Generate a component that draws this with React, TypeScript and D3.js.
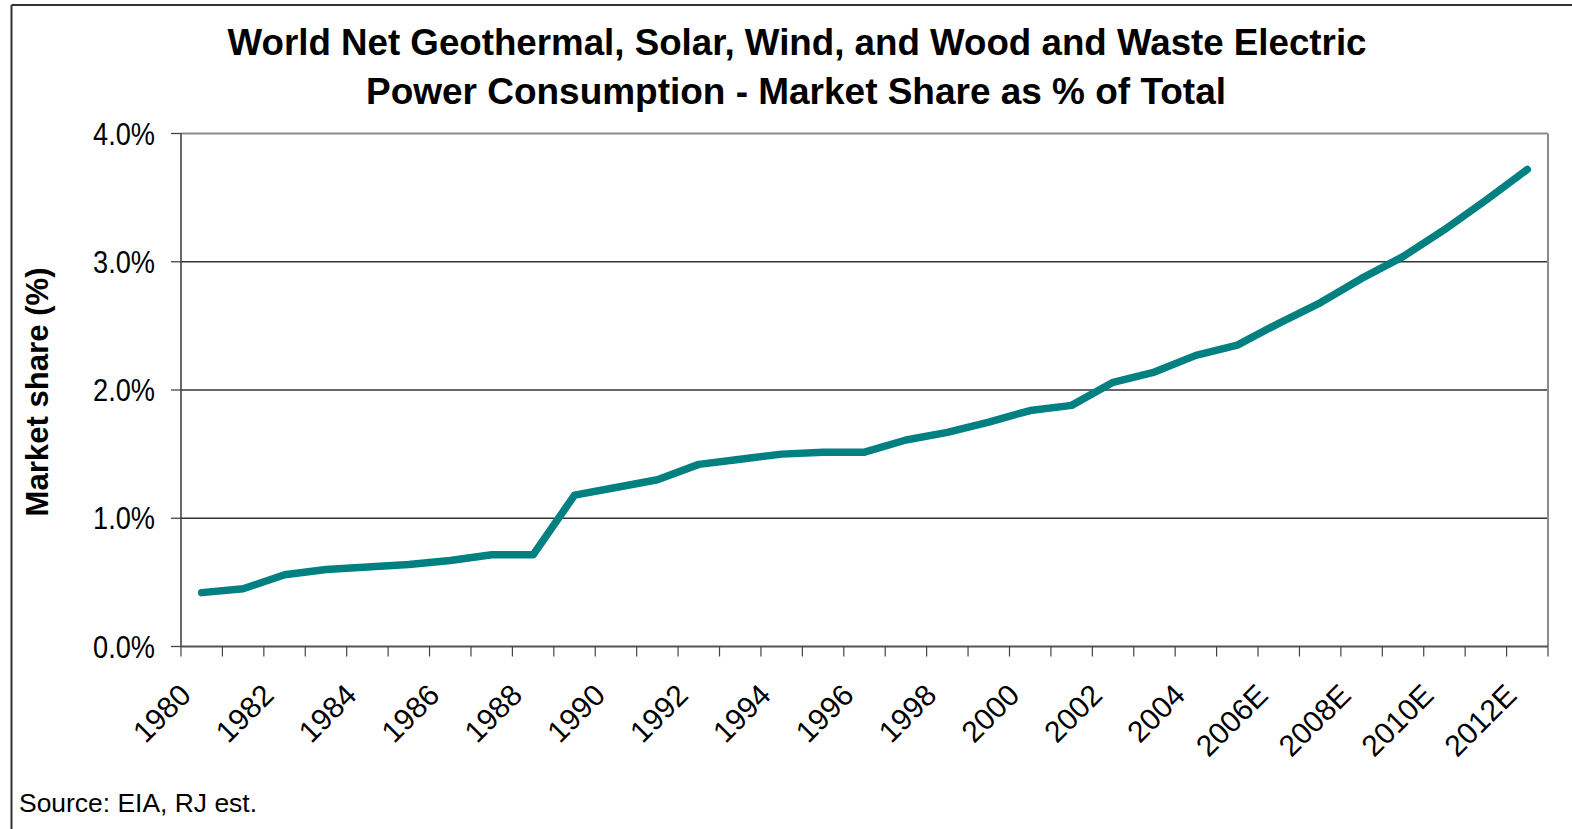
import React from "react";
import * as d3 from "d3";

const categories: string[] = [
  "1980", "1981", "1982", "1983", "1984", "1985", "1986", "1987", "1988", "1989",
  "1990", "1991", "1992", "1993", "1994", "1995", "1996", "1997", "1998", "1999",
  "2000", "2001", "2002", "2003", "2004", "2005", "2006E", "2007E", "2008E", "2009E",
  "2010E", "2011E", "2012E",
];
const marketShare: number[] = [
  0.42, 0.45, 0.56, 0.6, 0.62, 0.64, 0.67, 0.715, 0.715, 1.18,
  1.24, 1.3, 1.42, 1.46, 1.5, 1.515, 1.515, 1.61, 1.67, 1.75,
  1.84, 1.88, 2.06, 2.14, 2.27, 2.35, 2.52, 2.68, 2.87, 3.04,
  3.25, 3.48, 3.72,
];
const yTicks: number[] = [0, 1, 2, 3, 4];
const titleLines: string[] = [
  "World Net Geothermal, Solar, Wind, and Wood and Waste Electric",
  "Power Consumption - Market Share as % of Total",
];
const yAxisTitle = "Market share (%)";
const sourceNote = "Source: EIA, RJ est.";

const W = 1572;
const H = 829;
const plot = { left: 181, right: 1548, top: 133.5, bottom: 646.5 };
const FONT = "'Liberation Sans', Arial, Helvetica, sans-serif";

export default function App() {
  const x = d3.scaleBand<string>().domain(categories).range([plot.left, plot.right]).padding(0);
  const y = d3.scaleLinear().domain([0, 4]).range([plot.bottom, plot.top]);
  const line = d3
    .line<number>()
    .x((_, i) => (x(categories[i]) as number) + x.bandwidth() / 2)
    .y((d) => y(d));
  const fmt = d3.format(".1f");
  const boundaries = categories.map((c) => x(c) as number).concat([plot.right]);

  return (
    <svg
      width={W}
      height={H}
      style={{ position: "absolute", left: 0, top: 0, background: "#fff" }}
      fontFamily={FONT}
    >
      <rect x={0} y={0} width={W} height={H} fill="#fff" />
      {/* outer frame fragments */}
      <line x1={11.5} y1={5} x2={W} y2={5} stroke="#333" strokeWidth={2} />
      <line x1={11.5} y1={5} x2={11.5} y2={H} stroke="#333" strokeWidth={2} />

      {/* title */}
      <text x={797} y={55} textAnchor="middle" fontSize={36} fontWeight="bold" fill="#000"
        textLength={1139} lengthAdjust="spacingAndGlyphs">{titleLines[0]}</text>
      <text x={796} y={104} textAnchor="middle" fontSize={36} fontWeight="bold" fill="#000"
        textLength={860} lengthAdjust="spacingAndGlyphs">{titleLines[1]}</text>

      {/* gridlines */}
      {yTicks.filter((t) => t > 0 && t < 4).map((t) => (
        <line key={t} x1={plot.left} x2={plot.right} y1={y(t)} y2={y(t)} stroke="#333" strokeWidth={1.3} />
      ))}
      {/* plot frame top/right */}
      <line x1={plot.left} x2={plot.right} y1={plot.top} y2={plot.top} stroke="#8c8c8c" strokeWidth={2} />
      <line x1={plot.right} x2={plot.right} y1={plot.top} y2={plot.bottom} stroke="#8c8c8c" strokeWidth={2} />

      {/* y axis */}
      <line x1={plot.left} x2={plot.left} y1={plot.top} y2={plot.bottom} stroke="#444" strokeWidth={1.6} />
      {yTicks.map((t) => (
        <g key={t}>
          <line x1={plot.left - 10} x2={plot.left} y1={y(t)} y2={y(t)} stroke="#444" strokeWidth={1.3} />
          <text x={155} y={y(t) + 11} textAnchor="end" fontSize={31} fill="#000"
            textLength={62} lengthAdjust="spacingAndGlyphs">
            {`${fmt(t)}%`}
          </text>
        </g>
      ))}
      <text
        transform={`translate(48,392) rotate(-90)`}
        textAnchor="middle"
        fontSize={31}
        fontWeight="bold"
        fill="#000"
        textLength={249}
        lengthAdjust="spacingAndGlyphs"
      >
        {yAxisTitle}
      </text>

      {/* x axis */}
      <line x1={plot.left} x2={plot.right} y1={plot.bottom} y2={plot.bottom} stroke="#555" strokeWidth={1.8} />
      {boundaries.map((b, i) => (
        <line key={i} x1={b} x2={b} y1={plot.bottom} y2={plot.bottom + 10} stroke="#444" strokeWidth={1.2} />
      ))}
      {categories.map((c, i) =>
        i % 2 === 0 ? (
          <text
            key={c}
            transform={`translate(${(x(c) as number) + x.bandwidth() / 2 - 9},697) rotate(-45)`}
            textAnchor="end"
            fontSize={30}
            fill="#000"
          >
            {c}
          </text>
        ) : null
      )}

      {/* series */}
      <path
        d={line(marketShare) || ""}
        fill="none"
        stroke="#008080"
        strokeWidth={7.5}
        strokeLinejoin="round"
        strokeLinecap="round"
      />

      {/* source */}
      <text x={19} y={812} fontSize={26} fill="#000" textLength={238} lengthAdjust="spacingAndGlyphs">
        {sourceNote}
      </text>
    </svg>
  );
}
